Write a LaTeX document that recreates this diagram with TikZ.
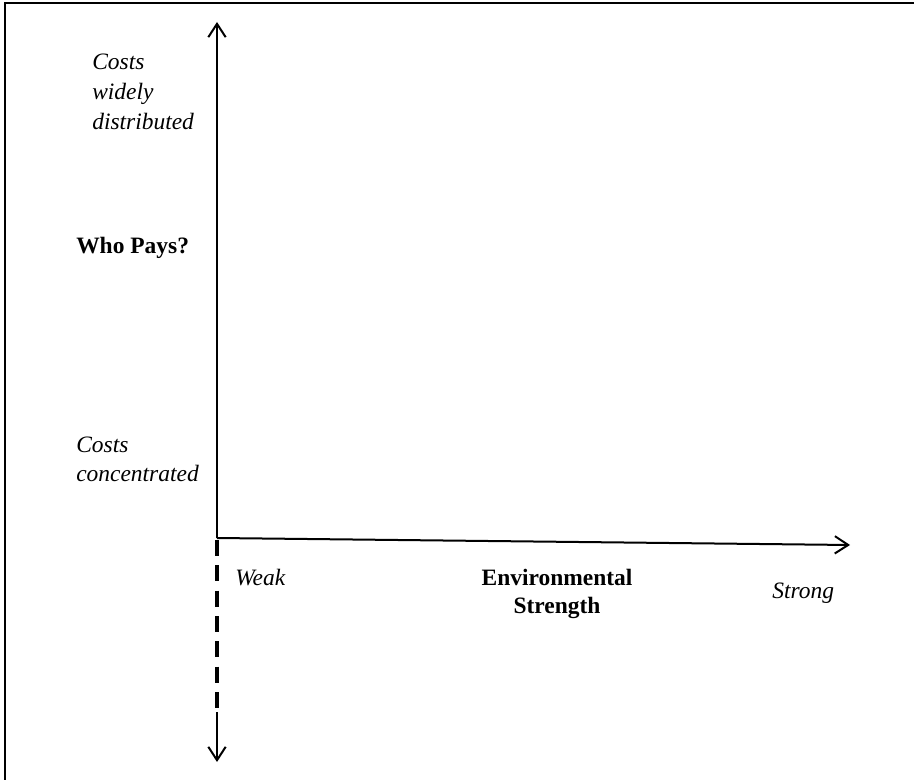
\documentclass[tikz,border=0pt]{standalone}
\usepackage{fontspec}
\setmainfont{Liberation Serif}
\usetikzlibrary{arrows.meta}
\begin{document}
\begin{tikzpicture}[x=0.75pt,y=-0.75pt,
  axis/.style={line width=1.5pt,-{Straight Barb[length=10pt,width=13pt,line width=1.5pt]}},
  lbl/.style={inner sep=0pt,font=\fontsize{17.6}{21}\selectfont\itshape},
  blbl/.style={inner sep=0pt,font=\fontsize{17.6}{21}\selectfont\bfseries}]
\useasboundingbox (0,0) rectangle (914,780);
\draw[line width=1.5pt] (5,780) -- (5,3) -- (914,3);
\coordinate (O) at (217,538);
\coordinate (top) at (217,22);
\coordinate (right) at (850,545);
\coordinate (dend) at (217,712);
\coordinate (bot) at (217,762);
\draw[axis] (O) -- (top);
\draw[axis] (O) -- (right);
\draw[line width=2.6pt,dash pattern=on 12pt off 7pt] (217,540) -- (dend);
\draw[axis,line width=2pt] (dend) -- (bot);
\node[lbl,anchor=base west] (c1) at (92,70) {Costs};
\node[lbl,anchor=base west] (c2) at (92,100) {widely};
\node[lbl,anchor=base west] (c3) at (92,130) {distributed};
\node[blbl,anchor=base west] (who) at (76,254) {Who Pays?};
\node[lbl,anchor=base west] (c4) at (76,453) {Costs};
\node[lbl,anchor=base west] (c5) at (76,481) {concentrated};
\node[lbl,anchor=base west] (weak) at (235,585) {Weak};
\node[blbl,anchor=base] (env1) at (557,585) {Environmental};
\node[blbl,anchor=base] (env2) at (557,613) {Strength};
\node[lbl,anchor=base west] (strong) at (772,598) {Strong};
\end{tikzpicture}
\end{document}
